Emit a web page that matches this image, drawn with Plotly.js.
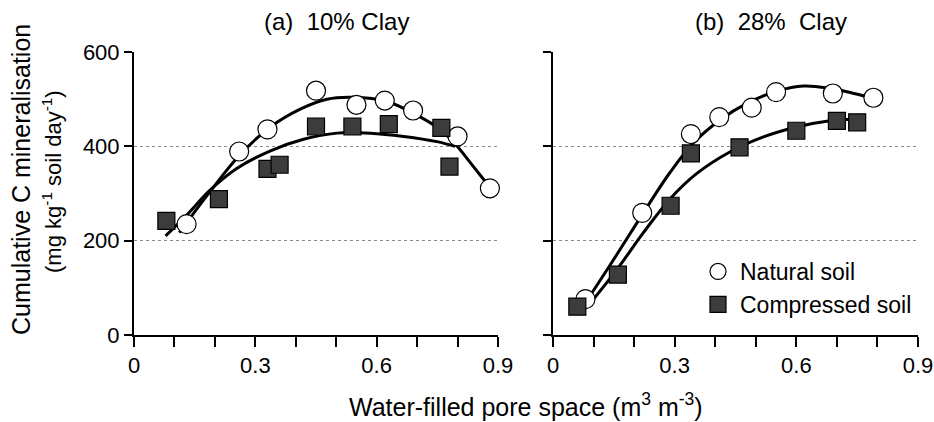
<!DOCTYPE html>
<html>
<head>
<meta charset="utf-8">
<script src="https://cdn.plot.ly/plotly-3.0.1.min.js"></script>
<style>html,body{margin:0;padding:0;background:#fff;}#chart{width:934px;height:422px;}</style>
</head>
<body>
<div id="chart"></div>
<script>
// Panel (a) 10% clay - observed points
var wfpsA_nat  = [0.13, 0.26, 0.33, 0.45, 0.55, 0.62, 0.69, 0.80, 0.88];
var cminA_nat  = [235, 389, 436, 518, 488, 497, 476, 421, 311];
var wfpsA_comp = [0.08, 0.21, 0.33, 0.36, 0.45, 0.54, 0.63, 0.76, 0.78];
var cminA_comp = [242, 288, 352, 361, 442, 442, 447, 439, 357];
// Panel (a) fitted curves
var fitA_nat_x  = [0.112, 0.188, 0.262, 0.337, 0.411, 0.477, 0.543, 0.625, 0.691, 0.757, 0.798, 0.831, 0.869];
var fitA_nat_y  = [217, 304, 382, 441, 479, 500, 504, 495, 470, 436, 401, 366, 325];
var fitA_comp_x = [0.078, 0.130, 0.188, 0.254, 0.336, 0.419, 0.502, 0.584, 0.667, 0.749, 0.794];
var fitA_comp_y = [210, 254, 307, 353, 390, 415, 428, 428, 421, 410, 400];

// Panel (b) 28% clay - observed points
var wfpsB_nat  = [0.08, 0.22, 0.34, 0.41, 0.49, 0.55, 0.69, 0.79];
var cminB_nat  = [76, 259, 426, 462, 482, 515, 512, 503];
var wfpsB_comp = [0.06, 0.16, 0.29, 0.34, 0.46, 0.60, 0.70, 0.75];
var cminB_comp = [60, 128, 274, 385, 398, 433, 454, 451];
// Panel (b) fitted curves
var fitB_nat_x  = [0.066, 0.148, 0.222, 0.288, 0.346, 0.412, 0.478, 0.552, 0.618, 0.683, 0.733, 0.782];
var fitB_nat_y  = [50, 158, 258, 344, 407, 456, 491, 517, 528, 523, 514, 503];
var fitB_comp_x = [0.082, 0.156, 0.222, 0.288, 0.354, 0.436, 0.519, 0.601, 0.683, 0.745];
var fitB_comp_y = [57, 137, 216, 288, 342, 388, 420, 441, 454, 458];

var xTicks = [0, 0.3, 0.6, 0.9];
var xTickText = ['0', '0.3', '0.6', '0.9'];
var yTicks = [0, 200, 400, 600];
var panelTitles = ['(a)\u00a0\u00a010% Clay', '(b)\u00a0\u00a028%\u00a0\u00a0Clay'];
var seriesNames = ['Natural soil', 'Compressed soil'];

var lineStyle = {color: '#000', width: 3, shape: 'spline', smoothing: 1};
var natMarker = {symbol: 'circle', size: 19, color: '#fff', line: {color: '#000', width: 1.2}};
var compMarker = {symbol: 'square', size: 17, color: '#3c3c3c', line: {color: '#000', width: 1.2}};

var traces = [
  {x: fitA_nat_x, y: fitA_nat_y, mode: 'lines', line: lineStyle, xaxis: 'x', yaxis: 'y', showlegend: false, hoverinfo: 'skip'},
  {x: fitA_comp_x, y: fitA_comp_y, mode: 'lines', line: lineStyle, xaxis: 'x', yaxis: 'y', showlegend: false, hoverinfo: 'skip'},
  {x: fitB_nat_x, y: fitB_nat_y, mode: 'lines', line: lineStyle, xaxis: 'x2', yaxis: 'y2', showlegend: false, hoverinfo: 'skip'},
  {x: fitB_comp_x, y: fitB_comp_y, mode: 'lines', line: lineStyle, xaxis: 'x2', yaxis: 'y2', showlegend: false, hoverinfo: 'skip'},
  {x: wfpsA_nat, y: cminA_nat, mode: 'markers', marker: natMarker, xaxis: 'x', yaxis: 'y', showlegend: false, cliponaxis: false, name: seriesNames[0]},
  {x: wfpsA_comp, y: cminA_comp, mode: 'markers', marker: compMarker, xaxis: 'x', yaxis: 'y', showlegend: false, cliponaxis: false, name: seriesNames[1]},
  {x: wfpsB_nat, y: cminB_nat, mode: 'markers', marker: natMarker, xaxis: 'x2', yaxis: 'y2', showlegend: true, cliponaxis: false, name: seriesNames[0]},
  {x: wfpsB_comp, y: cminB_comp, mode: 'markers', marker: compMarker, xaxis: 'x2', yaxis: 'y2', showlegend: true, cliponaxis: false, name: seriesNames[1]}
];

var font = 'Liberation Sans, Arial, sans-serif';
function xAxis(domain, anchor) {
  return {
    domain: domain, anchor: anchor, range: [0, 0.9], fixedrange: true,
    showline: true, linecolor: '#000', linewidth: 2, mirror: false,
    tickmode: 'array', tickvals: xTicks, ticktext: xTickText,
    ticks: 'outside', ticklen: 10, tickwidth: 2, tickcolor: '#000',
    minor: {dtick: 0.1, tick0: 0, ticks: 'outside', ticklen: 10, tickwidth: 2, tickcolor: '#000', showgrid: false},
    showgrid: false, zeroline: false,
    tickfont: {family: font, size: 22, color: '#000'}
  };
}
function yAxis(domain, anchor, labels) {
  return {
    domain: domain, anchor: anchor, range: [0, 600], fixedrange: true,
    showline: true, linecolor: '#000', linewidth: 2,
    tickmode: 'array', tickvals: yTicks,
    ticks: 'outside', ticklen: 8, tickwidth: 2, tickcolor: '#000',
    showticklabels: labels,
    showgrid: true, gridcolor: '#8a8a8a', gridwidth: 1, griddash: 'dot',
    zeroline: false,
    tickfont: {family: font, size: 22, color: '#000'}
  };
}

var yDom = [1 - 335/422, 1 - 52/422];
var layout = {
  width: 934, height: 422,
  margin: {l: 0, r: 0, t: 0, b: 0},
  paper_bgcolor: '#fff', plot_bgcolor: '#fff',
  font: {family: font, color: '#000'},
  xaxis: xAxis([134/934, 498/934], 'y'),
  yaxis: yAxis(yDom, 'x', true),
  xaxis2: xAxis([553/934, 918/934], 'y2'),
  yaxis2: yAxis(yDom, 'x2', false),
  showlegend: true,
  legend: {
    x: 696/934, y: 1 - 250/422, xanchor: 'left', yanchor: 'top',
    bgcolor: 'rgba(0,0,0,0)', borderwidth: 0,
    font: {family: font, size: 23, color: '#000'},
    itemsizing: 'trace', itemwidth: 34, tracegroupgap: 0
  },
  annotations: [
    {text: panelTitles[0], x: 336/934, y: 1 - 22/422, xref: 'paper', yref: 'paper', showarrow: false, xanchor: 'center', yanchor: 'middle', font: {family: font, size: 24, color: '#000'}},
    {text: panelTitles[1], x: 771/934, y: 1 - 22/422, xref: 'paper', yref: 'paper', showarrow: false, xanchor: 'center', yanchor: 'middle', font: {family: font, size: 24, color: '#000'}},
    {text: 'Cumulative C mineralisation', x: 21/934, y: 1 - 180/422, xref: 'paper', yref: 'paper', showarrow: false, textangle: -90, xanchor: 'center', yanchor: 'middle', font: {family: font, size: 25, color: '#000'}},
    {text: '(mg kg<sup>-1</sup> soil day<sup>-1</sup>)', x: 52/934, y: 1 - 182/422, xref: 'paper', yref: 'paper', showarrow: false, textangle: -90, xanchor: 'center', yanchor: 'middle', font: {family: font, size: 22, color: '#000'}},
    {text: 'Water-filled pore space (m<sup>3</sup> m<sup>-3</sup>)', x: 526/934, y: 1 - 405/422, xref: 'paper', yref: 'paper', showarrow: false, xanchor: 'center', yanchor: 'middle', font: {family: font, size: 25, color: '#000'}}
  ]
};

Plotly.newPlot('chart', traces, layout, {staticPlot: true, displayModeBar: false});
</script>
</body>
</html>
